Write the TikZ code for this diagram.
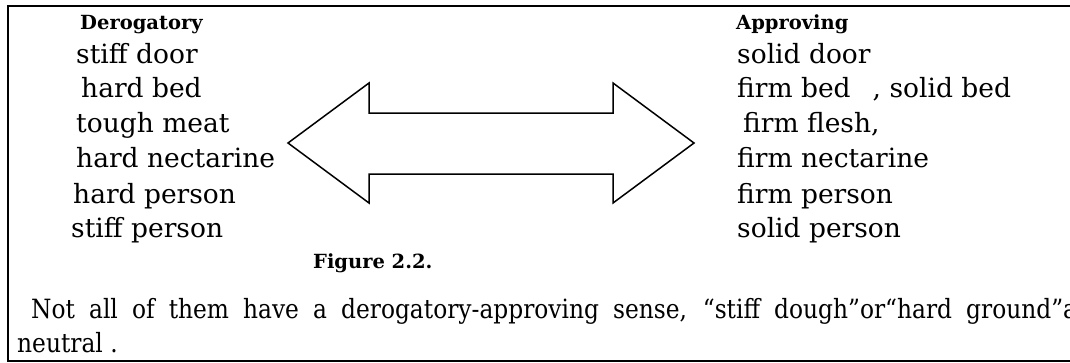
\documentclass[tikz,border=0pt]{standalone}
\usepackage{fontspec}
\setmainfont{DejaVu Serif}
\newfontfamily\notefont[FakeStretch=0.88]{DejaVu Serif}
\usetikzlibrary{positioning}

\begin{document}
\begin{tikzpicture}[
    x=1pt, y=-1pt,
    item/.style={
        anchor=base west,
        inner sep=0pt,
        font=\fontsize{26.5}{32}\selectfont
    },
    heading/.style={
        anchor=base west,
        inner sep=0pt,
        font=\fontsize{19.5}{24}\selectfont\bfseries
    },
    remark/.style={
        item,
        font=\fontsize{26.5}{32}\notefont
    },
    frame/.style={draw=black, line width=2pt},
    bigarrow/.style={draw=black, line width=1.5pt, line join=miter}
]
\useasboundingbox (0,0) rectangle (1070,362);
\clip (0,0) rectangle (1070,362);

% =========================================
% Outer frame (runs on past the right edge)
% =========================================
\draw[frame] (8,6) rectangle (1090,361);

% =========================================
% Left column: derogatory uses
% =========================================
\node[heading] (derog) at (80,29) {Derogatory};
\node[item] (d1) at (76,63)  {stiff door};
\node[item] (d2) at (81,97)  {hard bed};
\node[item] (d3) at (76,132) {tough meat};
\node[item] (d4) at (76,167) {hard nectarine};
\node[item] (d5) at (73,203) {hard person};
\node[item] (d6) at (71,237) {stiff person};

% =========================================
% Right column: approving uses
% =========================================
\node[heading] (approv) at (736,29) {Approving};
\node[item] (a1) at (737,63)  {solid door};
\node[item] (a2) at (737,97)  {firm bed\hspace{22pt}, solid bed};
\node[item] (a3) at (743,132) {firm flesh,};
\node[item] (a4) at (737,167) {firm nectarine};
\node[item] (a5) at (737,203) {firm person};
\node[item] (a6) at (737,237) {solid person};

% =========================================
% Double-headed block arrow between the columns
% =========================================
\draw[bigarrow] (288,143) -- (369,83) -- (369,113) -- (613,113)
    -- (613,83) -- (694,143) -- (613,203) -- (613,174)
    -- (369,174) -- (369,203) -- cycle;

% Caption
\node[heading] (caption) at (313,268) {Figure 2.2.};

% =========================================
% Remark under the figure
% =========================================
\node[remark] (note1) at (31,318) {\makebox[1046pt][s]{Not all of them have a derogatory-approving sense, “stiff dough”or“hard ground”a}};
\node[remark] (note2) at (17,352) {neutral .};

\end{tikzpicture}
\end{document}
